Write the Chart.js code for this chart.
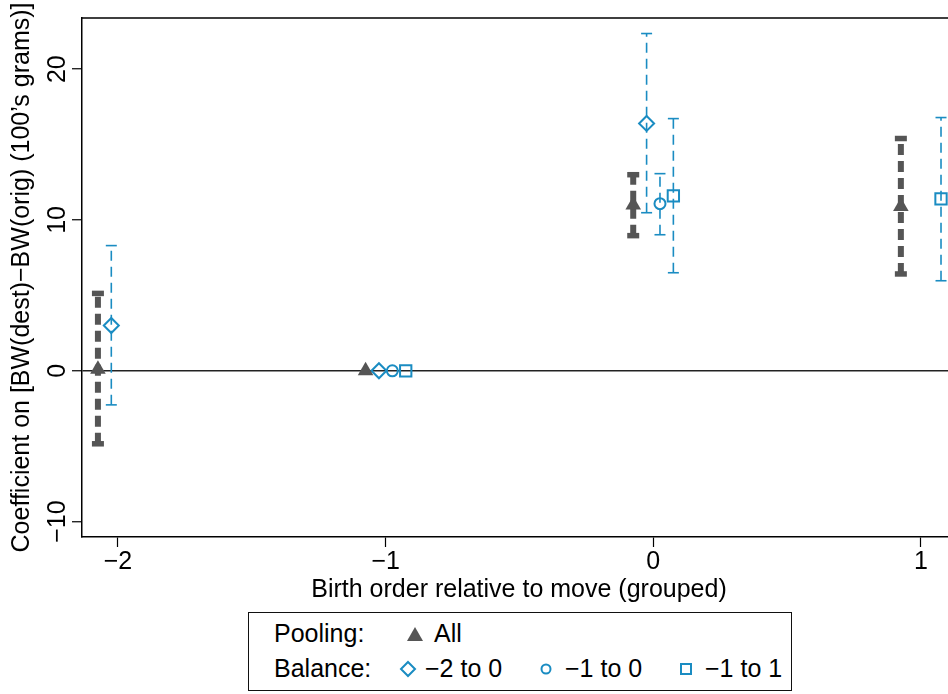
<!DOCTYPE html>
<html>
<head>
<meta charset="utf-8">
<script src="https://cdn.jsdelivr.net/npm/chart.js@4"></script>
<style>
  html, body { margin: 0; padding: 0; background: #fff; }
  body { width: 948px; height: 694px; overflow: hidden; position: relative; font-family: 'Liberation Sans', Arial, sans-serif; }
  #chart { position: absolute; left: 0; top: 0; }
  #legend { position: absolute; left: 248px; top: 612px; width: 544px; height: 79px; box-sizing: border-box; border: 1.5px solid #111; }
  #legend span { position: absolute; font-size: 25px; line-height: 30px; white-space: nowrap; color: #000; }
  #legend svg { position: absolute; overflow: visible; }
</style>
</head>
<body>
<canvas id="chart" width="970" height="610"></canvas>
<div id="legend">
  <span style="left:25px; top:5px">Pooling:</span>
  <svg style="left:158px; top:14px" width="16" height="14"><polygon points="8,0 16,14 0,14" fill="#555"/></svg>
  <span style="left:185px; top:5px">All</span>
  <span style="left:25px; top:40px">Balance:</span>
  <svg style="left:151px; top:48px" width="16" height="16"><polygon points="8,1 15,8 8,15 1,8" fill="none" stroke="#1a8cc2" stroke-width="2"/></svg>
  <span style="left:176px; top:40px">−2 to 0</span>
  <svg style="left:291px; top:50px" width="12" height="12"><circle cx="6" cy="6" r="4.5" fill="none" stroke="#1a8cc2" stroke-width="2"/></svg>
  <span style="left:316px; top:40px">−1 to 0</span>
  <svg style="left:431px; top:50px" width="12" height="12"><rect x="1" y="1" width="10" height="10" fill="none" stroke="#1a8cc2" stroke-width="2"/></svg>
  <span style="left:456px; top:40px">−1 to 1</span>
</div>
<script>
// birth-order groups on the x axis, and y ticks
const GROUP_TICKS = [-2, -1, 0, 1];
const Y_TICKS = [-10, 0, 10, 20];

// Pooling: All
const allX = [-2.075, -1.075, -0.075, 0.925];
const allEst = [0.1, 0, 11.0, 10.9];
const allLo = [-4.84, null, 8.96, 6.42];
const allHi = [5.13, null, 13.0, 15.4];

// Balance: -2 to 0
const bal20X = [-2.025, -1.025, -0.025];
const bal20Est = [3.0, 0, 16.4];
const bal20Lo = [-2.26, null, 10.48];
const bal20Hi = [8.3, null, 22.36];

// Balance: -1 to 0
const bal10X = [-0.975, 0.025];
const bal10Est = [0, 11.08];
const bal10Lo = [null, 9.02];
const bal10Hi = [null, 13.07];

// Balance: -1 to 1
const bal11X = [-0.925, 0.075, 1.075];
const bal11Est = [0, 11.6, 11.4];
const bal11Lo = [null, 6.5, 5.97];
const bal11Hi = [null, 16.72, 16.79];

const GRAY = '#555555';
const BLUE = '#1a8cc2';
const FONT = { family: "'Liberation Sans', Arial, sans-serif", size: 25 };

function points(xs, ys) {
  return xs.map((x, i) => ({ x, y: ys[i] }));
}

function ciSegments(xs, lo, hi) {
  const pts = [];
  xs.forEach((x, i) => {
    if (lo[i] == null) {
      return;
    }
    pts.push({ x, y: lo[i] }, { x, y: hi[i] }, { x, y: null });
  });
  return pts;
}

function markerSet(data, style, radius, filled) {
  return {
    type: 'scatter',
    data,
    pointStyle: style,
    pointRadius: radius,
    pointBorderWidth: filled ? 0 : 2,
    pointBorderColor: filled ? GRAY : BLUE,
    pointBackgroundColor: filled ? GRAY : 'rgba(0,0,0,0)',
    showLine: false
  };
}

function ciSet(data, color, width, dash, capRadius, capWidth) {
  return {
    type: 'line',
    data,
    borderColor: color,
    borderWidth: width,
    borderDash: dash,
    pointStyle: 'line',
    pointRadius: capRadius,
    pointBorderWidth: capWidth,
    pointBorderColor: color,
    spanGaps: false,
    fill: false
  };
}

const minusLabel = (v) => String(v).replace('-', '\u2212');

const topFrame = {
  id: 'topFrame',
  beforeDatasetsDraw(chart) {
    const { ctx, chartArea } = chart;
    ctx.save();
    ctx.strokeStyle = '#000';
    ctx.lineWidth = 1.5;
    ctx.beginPath();
    ctx.moveTo(chartArea.left, chartArea.top);
    ctx.lineTo(chartArea.right, chartArea.top);
    ctx.lineTo(chartArea.right, chartArea.bottom);
    ctx.stroke();
    ctx.restore();
  }
};

new Chart(document.getElementById('chart'), {
  type: 'scatter',
  data: {
    datasets: [
      markerSet(points(allX, allEst), 'triangle', 9, true),
      markerSet(points(bal20X, bal20Est), 'rectRot', 7.5, false),
      markerSet(points(bal10X, bal10Est), 'circle', 5.5, false),
      markerSet(points(bal11X, bal11Est), 'rect', 8, false),
      ciSet(ciSegments(allX, allLo, allHi), GRAY, 6, [11, 6], 6, 5.5),
      ciSet(ciSegments(bal20X, bal20Lo, bal20Hi), BLUE, 1.6, [10, 6], 5.5, 1.6),
      ciSet(ciSegments(bal10X, bal10Lo, bal10Hi), BLUE, 1.6, [10, 6], 5.5, 1.6),
      ciSet(ciSegments(bal11X, bal11Lo, bal11Hi), BLUE, 1.6, [10, 6], 5.5, 1.6)
    ]
  },
  options: {
    responsive: false,
    animation: false,
    events: [],
    layout: { padding: { top: 18, right: 14, left: 0, bottom: 0 } },
    plugins: { legend: { display: false }, tooltip: { enabled: false } },
    scales: {
      x: {
        type: 'linear',
        min: -2.1345,
        max: 1.131,
        afterBuildTicks: (scale) => { scale.ticks = GROUP_TICKS.map((value) => ({ value })); },
        afterFit: (scale) => { scale.height = 73; },
        border: { display: true, color: '#000', width: 1.5 },
        grid: { drawOnChartArea: false, drawTicks: true, tickLength: 10, tickColor: '#000', tickWidth: 1.2 },
        ticks: { color: '#000', font: FONT, padding: 0, maxRotation: 0, callback: minusLabel },
        title: {
          display: true,
          text: 'Birth order relative to move (grouped)',
          color: '#000',
          font: FONT,
          padding: { top: 0, bottom: 5 }
        }
      },
      y: {
        type: 'linear',
        min: -11.02,
        max: 23.39,
        afterBuildTicks: (scale) => { scale.ticks = Y_TICKS.map((value) => ({ value })); },
        afterFit: (scale) => { scale.width = 82; },
        border: { display: true, color: '#000', width: 1.5 },
        grid: {
          drawOnChartArea: true,
          drawTicks: true,
          tickLength: 10,
          tickColor: '#000',
          tickWidth: 1.2,
          lineWidth: 1.5,
          color: (ctx) => (ctx.tick && ctx.tick.value === 0 ? '#222' : 'rgba(0,0,0,0)')
        },
        ticks: {
          color: '#000',
          font: FONT,
          minRotation: 90,
          maxRotation: 90,
          crossAlign: 'center',
          padding: -7,
          callback: minusLabel
        },
        title: {
          display: true,
          text: 'Coefficient on [BW(dest)\u2212BW(orig) (100\u2019s grams)]',
          color: '#000',
          font: FONT,
          padding: { top: 7, bottom: 0 }
        }
      }
    }
  },
  plugins: [topFrame]
});
</script>
</body>
</html>
